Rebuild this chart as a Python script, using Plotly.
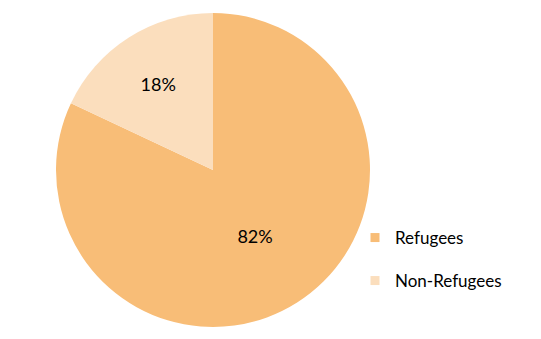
import plotly.graph_objects as go

labels = ["Refugees", "Non-Refugees"]
values = [82, 18]
colors = ["#F8BD77", "#FBDEBD"]

W, H = 541, 339
cx, cy, r = 213, 170, 157

fig = go.Figure()
fig.add_trace(go.Pie(
    labels=labels, values=values, sort=False, direction="clockwise", rotation=0,
    marker=dict(colors=colors, line=dict(width=0)),
    texttemplate="%{percent:.0%}", textposition="inside",
    insidetextorientation="horizontal",
    textfont=dict(family="Lato", size=18, color="#000000"),
    showlegend=False, hoverinfo="label+percent",
    domain=dict(x=[(cx - r) / W, (cx + r) / W], y=[1 - (cy + r) / H, 1 - (cy - r) / H]),
))

legend_y = [238, 281]
for i, (lab, col) in enumerate(zip(labels, colors)):
    lname = "legend" if i == 0 else "legend2"
    fig.add_trace(go.Scatter(
        x=[None], y=[None], mode="markers", name=lab,
        marker=dict(symbol="square", size=9, color=col),
        legend=lname, showlegend=True,
    ))
    fig.update_layout(**{lname: dict(
        x=355 / W, xanchor="left", y=1 - legend_y[i] / H, yanchor="middle",
        bgcolor="rgba(0,0,0,0)", font=dict(family="Lato", size=17, color="#000000"),
    )})

fig.update_layout(
    width=W, height=H, margin=dict(l=0, r=0, t=0, b=0),
    paper_bgcolor="white", plot_bgcolor="white",
    xaxis=dict(visible=False), yaxis=dict(visible=False),
)
fig.write_html("out.html")
